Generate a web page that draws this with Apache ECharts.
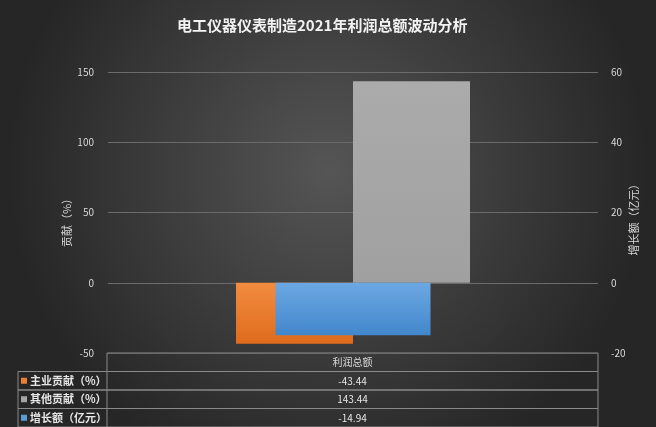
<!DOCTYPE html>
<html lang="zh">
<head>
    <meta charset="UTF-8">
    <title>电工仪器仪表制造2021年利润总额波动分析</title>
    <script src="https://cdn.jsdelivr.net/npm/echarts@6/dist/echarts.min.js"></script>
    <style>
        html,body{margin:0;padding:0;background:#2a2a2a}
        #chart{width:656px;height:427px}
    </style>
</head>
<body>
    <div id="chart"></div>
    <script>
        // data
        var categories = ['利润总额'];
        var seriesNames = ['主业贡献（%）', '其他贡献（%）', '增长额（亿元）'];
        var axisNames = ['贡献（%）', '增长额（亿元）'];
        var mainContrib = [-43.44];
        var otherContrib = [143.44];
        var growth = [-14.94];
        var swatchColors = ['#ed7d31', '#a5a5a5', '#5b9bd5'];

        var font = '"Noto Sans CJK SC", "Noto Sans", sans-serif';
        var chart = echarts.init(document.getElementById('chart'));

        // data table under the plot (drawn with graphic elements)
        var tblLeft = 18, colSplit = 107, tblRight = 598;
        var headTop = 353, rowH = 18.5;
        var lineCol = '#8a8a8a';
        var graphic = [];
        graphic.push({type:'rect', shape:{x:colSplit, y:headTop, width:tblRight-colSplit, height:rowH},
            style:{fill:'none', stroke:lineCol, lineWidth:1}, silent:true});
        graphic.push({type:'text', x:(colSplit+tblRight)/2, y:headTop+rowH/2,
            style:{text:categories[0], fill:'#d9d9d9', font:'10px ' + font, align:'center', verticalAlign:'middle'}});
        var rows = [mainContrib, otherContrib, growth];
        for (var i = 0; i < rows.length; i++) {
            var rowTop = headTop + rowH * (i + 1);
            graphic.push({type:'rect', shape:{x:tblLeft, y:rowTop, width:tblRight-tblLeft, height:rowH},
                style:{fill:'none', stroke:lineCol, lineWidth:1}, silent:true});
            graphic.push({type:'line', shape:{x1:colSplit, y1:rowTop, x2:colSplit, y2:rowTop+rowH},
                style:{stroke:lineCol, lineWidth:1}, silent:true});
            graphic.push({type:'rect', shape:{x:21, y:rowTop+rowH/2-3, width:6, height:6},
                style:{fill:swatchColors[i]}});
            graphic.push({type:'text', x:30, y:rowTop+rowH/2,
                style:{text:seriesNames[i], fill:'#e6e6e6', font:'bold 11px ' + font, align:'left', verticalAlign:'middle'}});
            graphic.push({type:'text', x:(colSplit+tblRight)/2, y:rowTop+rowH/2,
                style:{text:rows[i][0].toFixed(2), fill:'#e6e6e6', font:'10px ' + font, align:'center', verticalAlign:'middle'}});
        }
        // axis titles, rotated to read bottom-to-top
        graphic.push({type:'text', x:67, y:220, rotation:Math.PI/2,
            style:{text:axisNames[0], fill:'#d9d9d9', font:'11px ' + font, align:'center', verticalAlign:'middle'}});
        graphic.push({type:'text', x:634, y:217, rotation:Math.PI/2,
            style:{text:axisNames[1], fill:'#d9d9d9', font:'11px ' + font, align:'center', verticalAlign:'middle'}});

        function barStyle(c1, c2) {
            return {
                color:new echarts.graphic.LinearGradient(0,0,0,1,[{offset:0,color:c1},{offset:1,color:c2}]),
                shadowBlur:4, shadowColor:'rgba(0,0,0,0.55)', shadowOffsetX:2, shadowOffsetY:2
            };
        }

        var option = {
            backgroundColor:{
                type:'radial', x:0.5, y:0.4, r:0.75,
                colorStops:[{offset:0, color:'#555555'}, {offset:1, color:'#262626'}]
            },
            textStyle:{fontFamily:font},
            title:{
                text:'电工仪器仪表制造2021年利润总额波动分析',
                left:172, top:13,
                textStyle:{color:'#f2f2f2', fontSize:15, fontWeight:'bold', fontFamily:font}
            },
            grid:{left:108, right:58, top:72, bottom:74},
            xAxis:[
                {type:'category', data:categories, axisLine:{show:false}, axisTick:{show:false}, axisLabel:{show:false}},
                {type:'category', data:categories, show:false}
            ],
            yAxis:[
                {
                    type:'value', min:-50, max:150, interval:50,
                    axisLine:{show:false}, axisTick:{show:false},
                    axisLabel:{color:'#d9d9d9', fontSize:10, margin:14},
                    splitLine:{lineStyle:{color:'#6b6b6b', width:1}}
                },
                {
                    type:'value', min:-20, max:60, interval:20, position:'right',
                    axisLine:{show:false}, axisTick:{show:false},
                    axisLabel:{color:'#d9d9d9', fontSize:10, margin:13},
                    splitLine:{show:false}
                }
            ],
            series:[
                {
                    name:seriesNames[0], type:'bar', xAxisIndex:0, yAxisIndex:0,
                    data:mainContrib, barWidth:117, barGap:'0%',
                    itemStyle:barStyle('#f28c40', '#e06b1c')
                },
                {
                    name:seriesNames[1], type:'bar', xAxisIndex:0, yAxisIndex:0,
                    data:otherContrib, barWidth:117, barGap:'0%',
                    itemStyle:barStyle('#ababab', '#a0a0a0')
                },
                {
                    name:seriesNames[2], type:'bar', xAxisIndex:1, yAxisIndex:1,
                    data:growth, barWidth:155, z:3,
                    itemStyle:barStyle('#6ca8e2', '#4287cc')
                }
            ],
            graphic:graphic
        };
        chart.setOption(option);
    </script>
</body>
</html>
